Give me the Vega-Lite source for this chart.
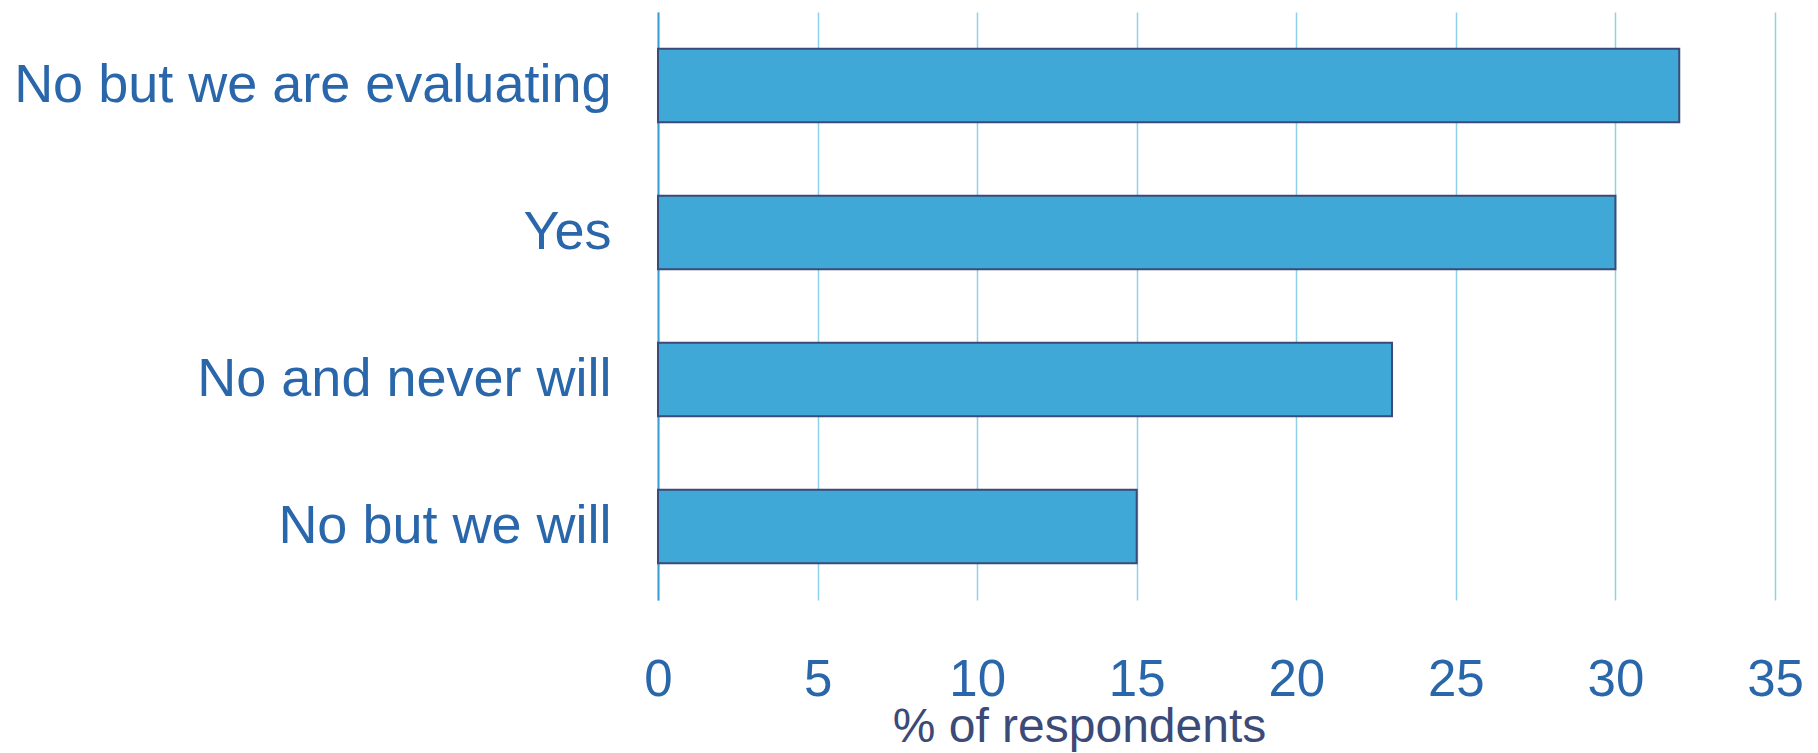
{
  "$schema": "https://vega.github.io/schema/vega-lite/v6.json",
  "width": 1117,
  "height": 588,
  "autosize": "none",
  "padding": {"left": 658, "top": 12, "right": 43, "bottom": 153},
  "background": "white",
  "data": {
    "values": [
      {"answer": "No but we are evaluating", "pct": 32},
      {"answer": "Yes", "pct": 30},
      {"answer": "No and never will", "pct": 23},
      {"answer": "No but we will", "pct": 15}
    ]
  },
  "mark": {"type": "bar", "fill": "#3fa8d6", "stroke": "#3b4a78", "strokeWidth": 2},
  "encoding": {
    "y": {
      "field": "answer",
      "type": "nominal",
      "sort": null,
      "scale": {"paddingInner": 0.5, "paddingOuter": 0.25},
      "axis": {
        "title": null,
        "ticks": false,
        "domainColor": "#3aa0d4",
        "domainWidth": 2,
        "labelFont": "Liberation Sans",
        "labelFontSize": 54,
        "labelColor": "#2a67aa",
        "labelPadding": 47,
        "labelLimit": 700
      }
    },
    "x": {
      "field": "pct",
      "type": "quantitative",
      "scale": {"domain": [0, 35], "nice": false},
      "axis": {
        "title": "% of respondents",
        "values": [0, 5, 10, 15, 20, 25, 30, 35],
        "grid": true,
        "gridColor": "#8fd0ea",
        "gridWidth": 1.5,
        "domain": false,
        "ticks": false,
        "labelFont": "Liberation Sans",
        "labelFontSize": 51,
        "labelColor": "#2a67aa",
        "labelPadding": 55,
        "labelFlush": false,
        "titleFont": "Liberation Sans",
        "titleFontSize": 48,
        "titleFontWeight": "normal",
        "titleColor": "#3c4a78",
        "titleAlign": "center",
        "titleBaseline": "alphabetic",
        "titleX": 421,
        "titleY": 141
      }
    }
  },
  "config": {"view": {"stroke": null}}
}
